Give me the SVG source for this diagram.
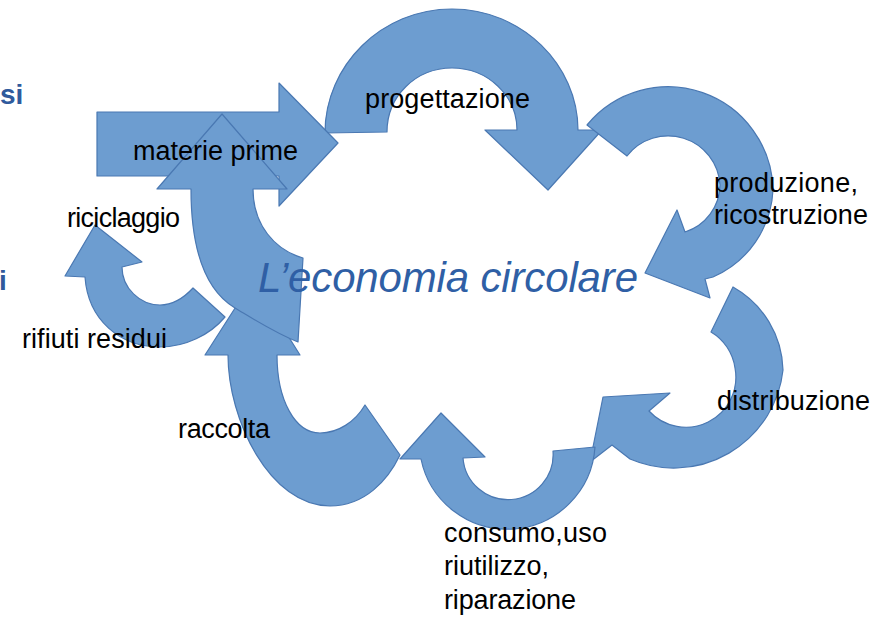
<svg xmlns="http://www.w3.org/2000/svg" width="884" height="619" viewBox="0 0 884 619">
<style>
.arr{fill:#6d9dd0;stroke:#4a78b2;stroke-width:1.2;stroke-linejoin:round}
.lbl{font-family:"Liberation Sans",Arial,sans-serif;font-size:27px;fill:#000}
.side{font-family:"Liberation Sans",Arial,sans-serif;font-size:28px;font-weight:bold;fill:#2f5a9c}
.title{font-family:"Liberation Sans",Arial,sans-serif;font-size:42px;font-style:italic;fill:#2f5fa5}
</style>
<rect width="884" height="619" fill="#fff"/>
<g id="connectors">
<path id="riciclaggio-arrow" class="arr" d="M85,277 C88,320 120,347 160,347 C185,347 210,335 225,317 L193,288 C180,302 168,305 160,305 C140,305 122,288 122,267 L142,262 L95,225 L65,276 Z"/>
<path id="progettazione-arrow" class="arr" d="M325,133 C325,65 382,9 452,9 C522,9 578,65 578,130 L602,130 L548,190 L485,130 L517,130 C517,96 488,68 452,68 C416,68 387,96 387,132 Z"/>
<path id="materie-arrow" class="arr" d="M97,112 L279,112 L279,83 L338,143 L279,206 L279,176 L97,176 Z"/>
<path id="produzione-arrow" class="arr" d="M587,125 A105,105 0 0 1 773,190 A100,100 0 0 1 713,277 L705,279 L710,298 L645,273 L677,210 L685,232 A50,50 0 0 0 720,185 A52,52 0 0 0 627,156 Z"/>
<path id="distribuzione-arrow" class="arr" d="M733,287 A98,98 0 0 1 783,370 A110,110 0 0 1 630,459 L612,445 L590,462 L603,397 L670,393 L649,411 A50,50 0 0 0 735,368 A50,50 0 0 0 711,332 Z"/>
<path id="consumo-arrow" class="arr" d="M421,459 A88,88 0 0 0 595,447 L553,451 A45,45 0 0 1 463,458 L485,457 L441,413 L400,459 Z"/>
<path id="raccolta-arrow" class="arr" d="M228,355 C228,420 270,506 330,506 C365,506 388,480 400,455 L365,405 C355,422 338,433 320,433 C295,433 277,400 277,355 L300,355 L253,280 L205,355 Z"/>
<path id="rifiuti-arrow" class="arr" d="M191,189 C191,250 205,290 235,308 C255,320 275,333 298,342 L303,258 C275,250 253,225 253,189 L287,189 L222,114 L157,189 Z"/>
</g>
<g id="n-title"><text class="title" x="258" y="292" textLength="380">L’economia circolare</text></g>
<g id="n-progettazione"><text class="lbl" x="365" y="108" textLength="165">progettazione</text></g>
<g id="n-materie"><text class="lbl" x="133" y="160" textLength="165">materie prime</text></g>
<g id="n-produzione"><text class="lbl" x="714" y="192" textLength="144">produzione,</text><text class="lbl" x="714" y="224" textLength="154">ricostruzione</text></g>
<g id="n-distribuzione"><text class="lbl" x="717" y="410" textLength="153">distribuzione</text></g>
<g id="n-consumo"><text class="lbl" x="444" y="542" textLength="163">consumo,uso</text><text class="lbl" x="444" y="575">riutilizzo,</text><text class="lbl" x="444" y="609" textLength="132">riparazione</text></g>
<g id="n-raccolta"><text class="lbl" x="178" y="438" textLength="92">raccolta</text></g>
<g id="n-rifiuti"><text class="lbl" x="22" y="348" textLength="145">rifiuti residui</text></g>
<g id="n-riciclaggio"><text class="lbl" x="67" y="227" textLength="113">riciclaggio</text></g>
<g id="side-text"><text class="side" x="0" y="104">si</text><text class="side" x="-1" y="290">i</text></g>
</svg>
